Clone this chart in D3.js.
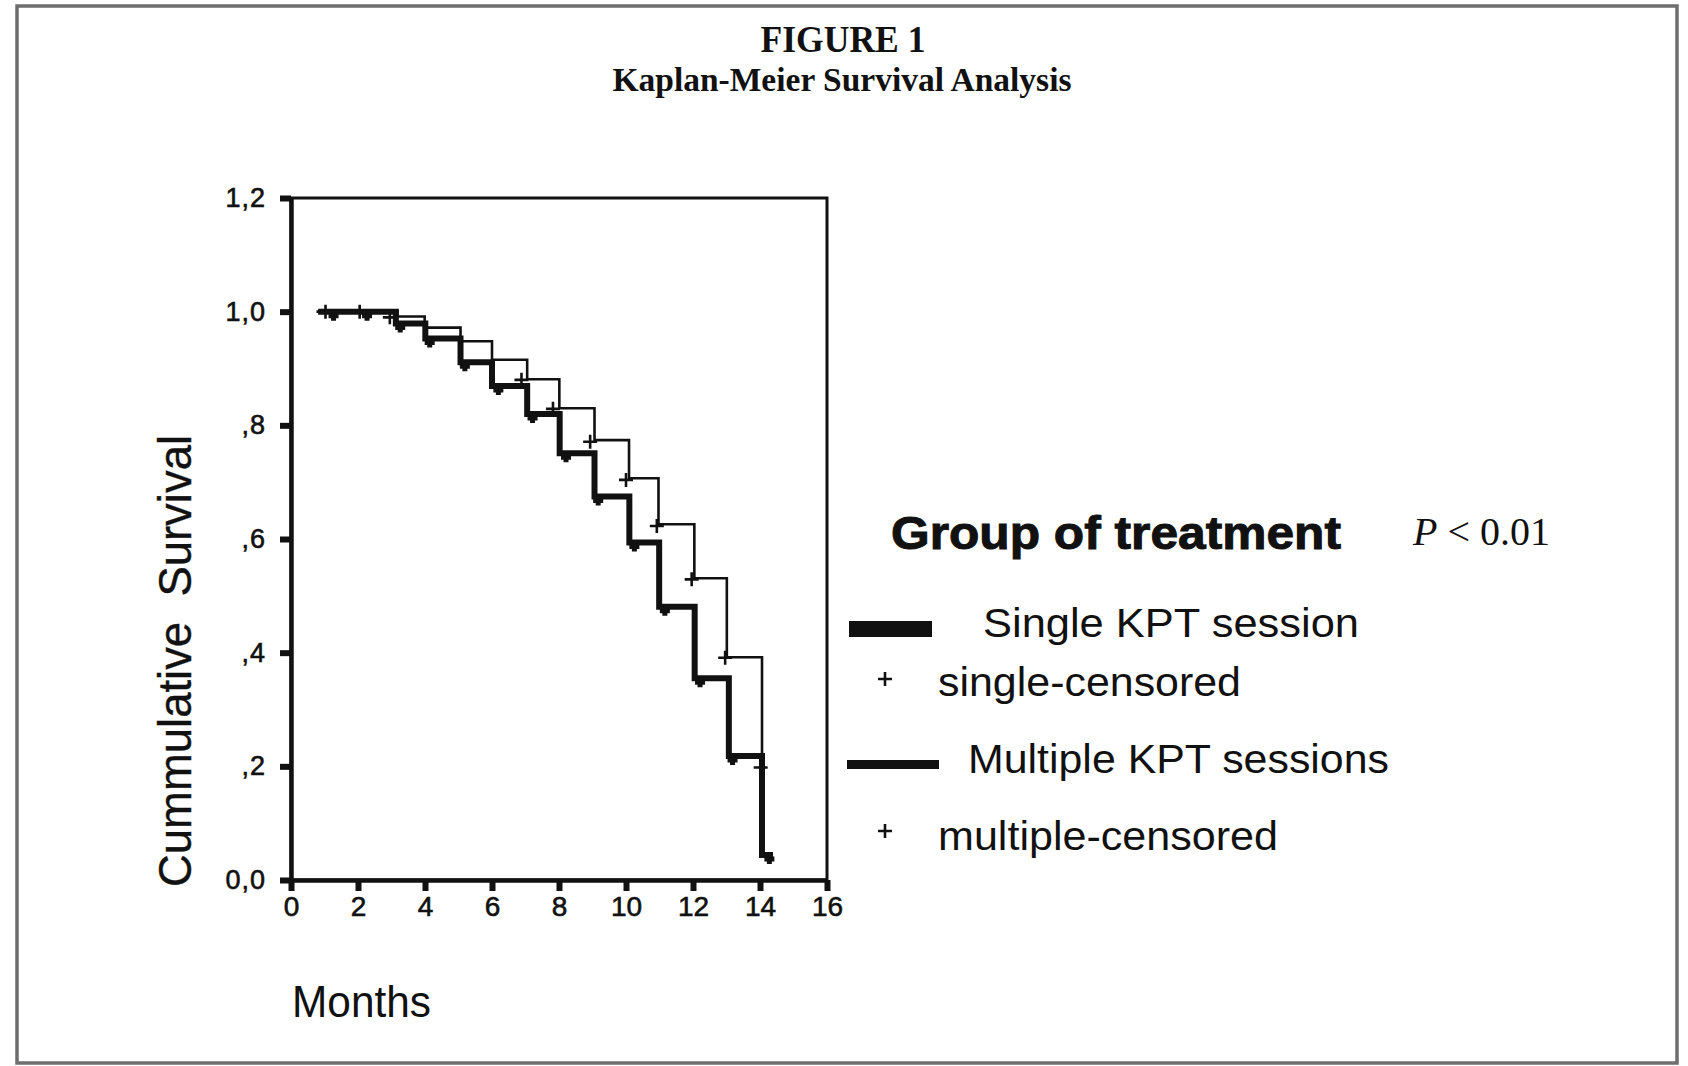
<!DOCTYPE html>
<html>
<head>
<meta charset="utf-8">
<script src="https://cdn.jsdelivr.net/npm/d3@7"></script>
<style>
  html, body { margin: 0; padding: 0; background: #ffffff; }
  svg { display: block; }
  text { fill: #111; }
</style>
</head>
<body>
<svg id="chart" width="1688" height="1066"></svg>
<script>
// ---------------- data ----------------
const titleLines = ["FIGURE 1", "Kaplan-Meier Survival Analysis"];
const yLabel = "Cummulative  Survival";
const xLabel = "Months";

const xTickValues = [0, 2, 4, 6, 8, 10, 12, 14, 16];
const xTickLabels = ["0", "2", "4", "6", "8", "10", "12", "14", "16"];
const yTickValues = [0, 0.2, 0.4, 0.6, 0.8, 1.0, 1.2];
const yTickLabels = ["0,0", ",2", ",4", ",6", ",8", "1,0", "1,2"];

// Single KPT session (thick line): step start times and survival levels
const singleTimes = [0.9, 3.13, 4.01, 5.06, 6.0, 7.05, 8.02, 9.06, 10.1, 10.99, 12.05, 13.07, 14.06];
const singleSurv  = [1.0, 0.979, 0.953, 0.911, 0.869, 0.820, 0.751, 0.675, 0.594, 0.481, 0.355, 0.218, 0.044];
const singleEnd = 14.3;
const singleCensorTimes = [1.27, 2.27, 3.26, 4.14, 5.19, 6.19, 7.21, 8.21, 9.17, 10.25, 11.16, 12.21, 13.18, 14.28];
const singleCensorSurv  = [1.0, 1.0, 0.979, 0.953, 0.911, 0.869, 0.820, 0.751, 0.675, 0.594, 0.481, 0.355, 0.218, 0.044];

// Multiple KPT sessions (thin line)
const multipleTimes = [0.8, 3.18, 3.99, 5.06, 6.0, 7.05, 8.01, 9.06, 10.09, 10.97, 12.04, 13.01, 14.06];
const multipleSurv  = [1.0, 0.9915, 0.972, 0.948, 0.9155, 0.881, 0.830, 0.774, 0.707, 0.626, 0.531, 0.392, 0.198];
const multipleEnd = 14.12;
const multipleCensorTimes = [1.03, 2.05, 2.95, 6.88, 7.82, 8.93, 10.0, 10.92, 11.96, 12.96, 14.02];
const multipleCensorSurv  = [1.0, 1.0, 0.99, 0.88, 0.829, 0.771, 0.704, 0.623, 0.529, 0.391, 0.198];

const legendTitle = "Group of treatment";
const pValueLabel = ["P", " < 0.01"];
const legendItems = ["Single KPT session", "single-censored", "Multiple KPT sessions", "multiple-censored"];

// ---------------- drawing ----------------
const svg = d3.select("#chart");
const W = 1688, H = 1066;
const sans = "Liberation Sans, Arial, sans-serif";
const serif = "Liberation Serif, Times New Roman, serif";

svg.append("rect").attr("x", 0).attr("y", 0).attr("width", W).attr("height", H).attr("fill", "#ffffff");
// outer frame of the figure
svg.append("rect").attr("x", 17).attr("y", 6).attr("width", 1660).attr("height", 1057)
  .attr("fill", "none").attr("stroke", "#6e6e6e").attr("stroke-width", 3.5);

// titles
svg.append("text").attr("x", 843).attr("y", 52).attr("text-anchor", "middle")
  .attr("font-family", serif).attr("font-weight", "bold")
  .attr("font-size", 38).attr("textLength", 165).attr("lengthAdjust", "spacingAndGlyphs")
  .text(titleLines[0]);
svg.append("text").attr("x", 842).attr("y", 91).attr("text-anchor", "middle")
  .attr("font-family", serif).attr("font-weight", "bold")
  .attr("font-size", 34).attr("textLength", 459).attr("lengthAdjust", "spacingAndGlyphs")
  .text(titleLines[1]);

// scales
const x = d3.scaleLinear().domain([0, 16]).range([291, 827]);
const y = d3.scaleLinear().domain([0, 1.2]).range([880, 198]);

// plot frame
svg.append("rect")
  .attr("x", x(0)).attr("y", y(1.2))
  .attr("width", x(16) - x(0)).attr("height", y(0) - y(1.2))
  .attr("fill", "none").attr("stroke", "#111").attr("stroke-width", 3);

// axes
const yAxis = d3.axisLeft(y).tickValues(yTickValues)
  .tickFormat((d, i) => yTickLabels[i]).tickSize(11).tickSizeOuter(0).tickPadding(14);
const gy = svg.append("g").attr("transform", `translate(${x(0)},0)`).call(yAxis);
gy.select(".domain").attr("stroke", "#111").attr("stroke-width", 4.5);
gy.selectAll(".tick line").attr("stroke", "#111").attr("stroke-width", 6);
gy.selectAll(".tick text").attr("font-family", sans)
  .attr("font-size", 27).attr("letter-spacing", 1).attr("fill", "#111")
  .attr("stroke", "#111").attr("stroke-width", 0.6);

const xAxis = d3.axisBottom(x).tickValues(xTickValues)
  .tickFormat((d, i) => xTickLabels[i]).tickSize(11).tickSizeOuter(0).tickPadding(5);
const gx = svg.append("g").attr("transform", `translate(0,${y(0)})`).call(xAxis);
gx.select(".domain").attr("stroke", "#111").attr("stroke-width", 4.5);
gx.selectAll(".tick line").attr("stroke", "#111").attr("stroke-width", 6);
gx.selectAll(".tick text").attr("font-family", sans)
  .attr("font-size", 28).attr("fill", "#111")
  .attr("stroke", "#111").attr("stroke-width", 0.6);

// axis titles
svg.append("text")
  .attr("transform", "translate(191,661) rotate(-90)")
  .attr("text-anchor", "middle").style("white-space", "pre")
  .attr("font-family", sans).attr("font-size", 46)
  .attr("stroke", "#111").attr("stroke-width", 0.4)
  .attr("textLength", 452).attr("lengthAdjust", "spacingAndGlyphs")
  .text(yLabel);
svg.append("text").attr("x", 292).attr("y", 1017)
  .attr("font-family", sans).attr("font-size", 45)
  .attr("textLength", 139).attr("lengthAdjust", "spacingAndGlyphs")
  .text(xLabel);

// step curves
const step = d3.line().x(d => x(d[0])).y(d => y(d[1])).curve(d3.curveStepAfter);
function stepPoints(times, surv, end) {
  const pts = times.map((t, i) => [t, surv[i]]);
  pts.push([end, surv[surv.length - 1]]);
  return pts;
}
svg.append("path").datum(stepPoints(singleTimes, singleSurv, singleEnd))
  .attr("d", step).attr("fill", "none").attr("stroke", "#111")
  .attr("stroke-width", 6).attr("stroke-linejoin", "miter").attr("stroke-linecap", "square");
svg.append("path").datum(stepPoints(multipleTimes, multipleSurv, multipleEnd))
  .attr("d", step).attr("fill", "none").attr("stroke", "#111")
  .attr("stroke-width", 2.6).attr("stroke-linecap", "square");

// censor marks
svg.append("g").selectAll("path").data(singleCensorTimes.map((t, i) => [t, singleCensorSurv[i]]))
  .join("path")
  .attr("transform", d => `translate(${x(d[0])},${y(d[1])})`)
  .attr("d", "M-5,4H5M0,0V9")
  .attr("fill", "none").attr("stroke", "#111").attr("stroke-width", 5);
svg.append("g").selectAll("path").data(multipleCensorTimes.map((t, i) => [t, multipleCensorSurv[i]]))
  .join("path")
  .attr("transform", d => `translate(${x(d[0])},${y(d[1])})`)
  .attr("d", "M-7,0H7M0,-7V7")
  .attr("fill", "none").attr("stroke", "#111").attr("stroke-width", 2.6);

// legend
svg.append("text").attr("x", 891).attr("y", 549)
  .attr("font-family", sans).attr("font-weight", "bold").attr("font-size", 46)
  .attr("stroke", "#111").attr("stroke-width", 1)
  .attr("textLength", 450).attr("lengthAdjust", "spacingAndGlyphs")
  .text(legendTitle);
const pv = svg.append("text").attr("x", 1413).attr("y", 545)
  .attr("font-family", serif).attr("font-size", 40)
  .style("white-space", "pre");
pv.append("tspan").attr("font-style", "italic").text(pValueLabel[0]);
pv.append("tspan").text(pValueLabel[1]);

svg.append("rect").attr("x", 849).attr("y", 621).attr("width", 83).attr("height", 16).attr("fill", "#111");
svg.append("text").attr("x", 983).attr("y", 637).attr("font-family", sans).attr("font-size", 41)
  .attr("textLength", 376).attr("lengthAdjust", "spacingAndGlyphs")
  .style("white-space", "pre").text(legendItems[0]);

svg.append("path").attr("transform", "translate(885,679)").attr("d", "M-7,0H7M0,-7V7")
  .attr("stroke", "#111").attr("stroke-width", 2.6);
svg.append("text").attr("x", 938).attr("y", 696).attr("font-family", sans).attr("font-size", 41)
  .attr("textLength", 303).attr("lengthAdjust", "spacingAndGlyphs")
  .text(legendItems[1]);

svg.append("rect").attr("x", 847).attr("y", 760).attr("width", 92).attr("height", 9).attr("fill", "#111");
svg.append("text").attr("x", 968).attr("y", 773).attr("font-family", sans).attr("font-size", 41)
  .attr("textLength", 421).attr("lengthAdjust", "spacingAndGlyphs")
  .text(legendItems[2]);

svg.append("path").attr("transform", "translate(885,831)").attr("d", "M-7,0H7M0,-7V7")
  .attr("stroke", "#111").attr("stroke-width", 2.6);
svg.append("text").attr("x", 938).attr("y", 850).attr("font-family", sans).attr("font-size", 41)
  .attr("textLength", 340).attr("lengthAdjust", "spacingAndGlyphs")
  .text(legendItems[3]);
</script>
</body>
</html>
